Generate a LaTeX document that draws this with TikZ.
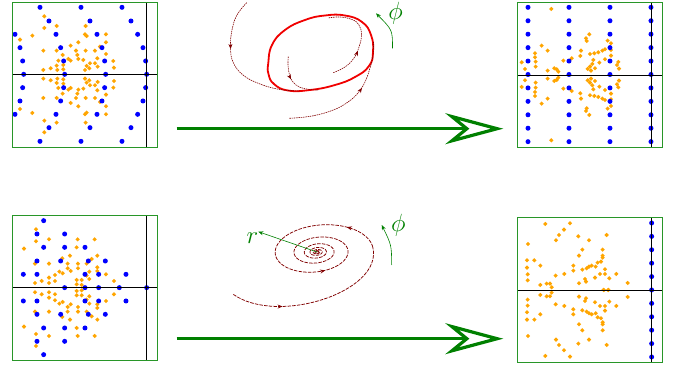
\documentclass[tikz,border=0pt]{standalone}
\usetikzlibrary{arrows.meta,decorations.markings}
\definecolor{dotblue}{RGB}{0,0,255}
\definecolor{dorange}{RGB}{255,165,0}
\definecolor{trajred}{RGB}{128,0,0}
\definecolor{cycred}{RGB}{240,0,0}
\definecolor{arrgreen}{RGB}{0,128,0}
\definecolor{boxgreen}{RGB}{40,150,40}
\newcommand{\odia}[2]{\fill[dorange] (#1,#2) +(0,6.5) -- +(6.5,0) -- +(0,-6.5) -- +(-6.5,0) -- cycle;}
\newcommand{\bluedot}[2]{\fill[dotblue] (#1,#2) circle[radius=7.5];}
\newcommand{\mirrororange}[2]{\foreach \px/\py in {#2}{\pgfmathsetmacro{\qy}{2*#1-\py}\odia{\px}{\py}\odia{\px}{\qy}}}
\newcommand{\mirrorblue}[2]{\foreach \px/\py in {#2}{\pgfmathsetmacro{\qy}{2*#1-\py}\bluedot{\px}{\py}\bluedot{\px}{\qy}}}
\tikzset{
  panel/.style={draw=boxgreen, line width=0.6pt},
  axisline/.style={black, line width=0.7pt},
  traj/.style={trajred, line width=0.6pt, dash pattern=on 1.5pt off 0.8pt},
  sptraj/.style={trajred, line width=0.75pt, dash pattern=on 3.5pt off 1.2pt},
  cyc/.style={cycred, line width=1.8pt},
  arrmark/.style={postaction={decorate, decoration={markings, mark=at position #1 with {\arrow{Stealth[length=5pt,width=4pt]}}}}},
  bigarrow/.style={arrgreen, line width=3.2pt, -{Stealth[open, length=58pt, width=31pt, inset=19pt]}},
  thinarrow/.style={arrgreen, line width=0.6pt, -{Stealth[length=5pt,width=4pt]}},
  lbl/.style={text=arrgreen, font=\fontsize{24}{24}\selectfont, inner sep=0pt}
}
\begin{document}
\begin{tikzpicture}[x=1pt, y=-1pt]
\useasboundingbox (0,0) rectangle (681,366);

% ---------- top-left panel ----------
\begin{scope}[shift={(0,0)}, x=0.3333pt, y=-0.3333pt]
\mirrororange{223}{133/49, 170/78, 257/78, 133/84, 97/107, 255/103, 260/108, 318/103, 60/119, 235/127, 318/127, 212/137, 300/140, 130/152, 170/152, 228/152, 257/152, 285/152, 188/165, 232/165, 318/162, 205/177, 235/177, 292/175, 175/182, 212/182, 250/180, 340/183, 270/190, 285/190, 190/195, 260/198, 293/200, 170/197, 130/210, 152/205, 172/210, 255/210, 268/205, 342/203, 190/208}
\mirrorblue{223}{120/22, 243/22, 366/22, 147/63, 270/63, 393/63, 45/103, 168/103, 291/103, 413/103, 60/143, 182/143, 306/143, 429/143, 68/183, 191/183, 314/183, 437/183}
\foreach \px in {71,194,317,440}{\bluedot{\px}{223}}
\draw[axisline] (38,223) -- (472,223);
\draw[axisline] (440,7) -- (440,441);
\draw[panel] (38,7) rectangle (472,441);
\end{scope}

% ---------- top-right panel ----------
\begin{scope}[shift={(505,0)}, x=0.3333pt, y=-0.3333pt]
\mirrororange{224}{139/27, 253/103, 243/115, 245/123, 110/137, 128/152, 90/160, 90/172, 308/122, 318/130, 228/152, 226/168, 255/162, 268/160, 280/157, 292/152, 300/148, 318/150, 318/167, 200/175, 175/182, 50/187, 92/185, 92/200, 283/188, 300/178, 262/192, 255/200, 248/207, 258/212, 270/205, 340/186, 336/195, 342/206, 60/207, 128/212, 148/205, 155/208, 160/215, 265/180}
\foreach \px in {69,192,315,438}{\foreach \i in {0,...,10}{\bluedot{\px}{22+40.3*\i}}}
\draw[axisline] (37,225) -- (472,225);
\draw[axisline] (438,7) -- (438,441);
\draw[panel] (37,7) rectangle (472,441);
\end{scope}

% ---------- bottom-left panel ----------
\begin{scope}[shift={(0,205)}, x=0.3333pt, y=-0.3333pt]
\mirrororange{248}{108/73, 147/103, 233/103, 284/103, 108/109, 72/131, 230/127, 210/152, 292/152, 187/160, 275/162, 105/176, 147/176, 203/176, 234/176, 260/176, 203/190, 212/198, 234/190, 292/187, 292/198, 178/200, 188/205, 268/200, 165/210, 147/218, 318/208, 260/212, 125/228, 105/234, 147/234, 165/228, 230/225, 245/225, 268/222, 342/228, 230/238, 245/240}
\mirrorblue{248}{131/47, 111/87, 194/87, 131/127, 194/127, 255/127, 111/168, 182/168, 265/168, 316/168, 70/208, 111/208, 255/208, 296/208, 378/208}
\foreach \px in {194,255,296,358,440}{\bluedot{\px}{248}}
\draw[axisline] (38,248) -- (472,248);
\draw[axisline] (440,31) -- (440,466);
\draw[panel] (38,31) rectangle (472,466);
\end{scope}

% ---------- bottom-right panel ----------
\begin{scope}[shift={(505,205)}, x=0.3333pt, y=-0.3333pt]
\mirrororange{255}{121/57, 195/55, 177/74, 162/90, 153/106, 220/94, 252/106, 305/90, 69/117, 232/134, 222/152, 293/134, 293/152, 293/158, 66/166, 88/166, 106/182, 66/188, 68/208, 68/226, 152/212, 178/207, 205/182, 205/197, 232/194, 245/190, 252/185, 260/182, 272/185, 278/173, 288/170, 300/193, 285/207, 300/207, 334/207, 313/220, 270/218, 240/222, 243/230, 222/235, 106/240, 125/236, 135/236, 140/247, 368/234, 296/255, 310/255}
\foreach \i in {0,...,10}{\bluedot{440}{54+40.2*\i}}
\draw[axisline] (38,255) -- (473,255);
\draw[axisline] (440,37) -- (440,472);
\draw[panel] (38,37) rectangle (473,472);
\end{scope}

% ---------- top middle: limit cycle ----------
\draw[cyc] plot[smooth cycle, tension=0.8] coordinates {(268.3,63) (272,45) (285,30) (305,20) (325,15.5) (345,15.5) (362,22) (371,35) (373,52) (369,66) (355,77) (335,85) (310,90) (288,90.5) (274,84) (268.5,74)};
\draw[traj, arrmark=0.36] plot[smooth, tension=0.7] coordinates {(246.7,2.7) (237,15) (232,30) (230.5,46.7) (233,62) (243,75) (260,84) (280,89.5) (300,91)};
\draw[traj, arrmark=0.43] plot[smooth, tension=0.7] coordinates {(288.3,56.7) (288,65) (289.5,75) (293,82) (300,87.3) (310,89.5) (318,90)};
\draw[traj, arrmark=0.36] plot[smooth, tension=0.7] coordinates {(333.3,72.7) (345,67) (354,58) (359,47) (361.5,35) (359,25) (352,19.5) (340,17) (328,18)};
\draw[traj, arrmark=0.63] plot[smooth, tension=0.7] coordinates {(289.3,118.3) (312,116) (333.3,110) (348,102) (358,93) (365,82) (370,68) (373,55) (373.5,42)};
\coordinate (pta) at (392.5,48.3);
\coordinate (ptb) at (376,13.3);
\draw[thinarrow] (pta) .. controls (392.5,30) .. (ptb);
\node[lbl] (phitop) at (395.5,13) {$\phi$};

% ---------- bottom middle: spiral ----------
\coordinate (spc) at (317,252);
\begin{scope}[shift={(317,252)}, rotate=5]
\draw[sptraj] plot[domain=0:40, samples=900, variable=\t] ({56*exp(-0.095*\t)*cos(\t r)}, {-30.8*exp(-0.095*\t)*sin(\t r)});
\draw[sptraj, arrmark=0.3] (-87,35) .. controls (-45,70) and (63,45) .. (56,0);
\path[trajred, line width=0.7pt, arrmark=0.5] plot[domain=0.8:1.0, samples=10, variable=\t] ({56*exp(-0.095*\t)*cos(\t r)}, {-30.8*exp(-0.095*\t)*sin(\t r)});
\path[trajred, line width=0.7pt, arrmark=0.5] plot[domain=4.8:5.0, samples=10, variable=\t] ({56*exp(-0.095*\t)*cos(\t r)}, {-30.8*exp(-0.095*\t)*sin(\t r)});
\end{scope}
\coordinate (rtip) at (258.3,231.7);
\draw[thinarrow] (spc) -- (rtip);
\node[lbl] (rlab) at (252.5,238) {$r$};
\coordinate (pba) at (391.7,265);
\coordinate (pbb) at (381.7,225);
\draw[thinarrow] (pba) .. controls (391.5,245) .. (pbb);
\node[lbl] (phibot) at (398.3,225.5) {$\phi$};

% ---------- big arrows ----------
\coordinate (ta) at (176.7,128.7);
\coordinate (tb) at (503.3,128.7);
\draw[bigarrow] (ta) -- (tb);
\coordinate (ba) at (176.7,338.7);
\coordinate (bb) at (503.3,338.7);
\draw[bigarrow] (ba) -- (bb);
\end{tikzpicture}
\end{document}
